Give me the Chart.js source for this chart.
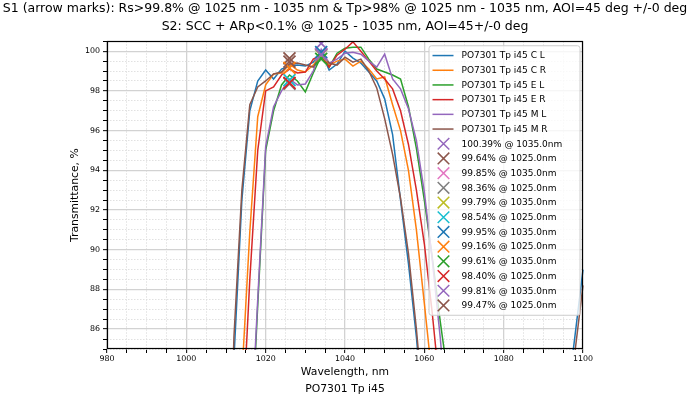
<!DOCTYPE html>
<html><head><meta charset="utf-8">
<script src="https://cdn.jsdelivr.net/npm/chart.js@4.4.1/dist/chart.umd.min.js"></script>
<style>html,body{margin:0;padding:0;background:#fff;}canvas{display:block;}</style>
</head><body>
<canvas id="c" width="690" height="395"></canvas>
<script>
// ---------- data ----------
const titleLines = [
  'S1 (arrow marks): Rs>99.8% @ 1025 nm - 1035 nm & Tp>98% @ 1025 nm - 1035 nm, AOI=45 deg +/-0 deg',
  'S2: SCC + ARp<0.1% @ 1025 - 1035 nm, AOI=45+/-0 deg'
];
const xTitle = 'Wavelength, nm';
const caption = 'PO7301 Tp i45';
const yTitle = 'Transmittance, %';
const xTickLabels = [980, 1000, 1020, 1040, 1060, 1080, 1100];
const yTickLabels = [86, 88, 90, 92, 94, 96, 98, 100];

const wavelengths = [1010,1012,1014,1016,1018,1020,1022,1024,1026,1028,1030,1032,1034,1036,1038,1040,1042,1044,1046,1048,1050,1052,1054,1056,1058,1060,1062,1064,1066,1068,1080,1096,1098,1100,1102];

const seriesNames = ['PO7301 Tp i45 C L','PO7301 Tp i45 C R','PO7301 Tp i45 E L','PO7301 Tp i45 E R','PO7301 Tp i45 M L','PO7301 Tp i45 M R'];
const tpCL = [70,84.5,92.5,97.0,98.5,99.05,98.6,99.1,99.25,99.3,99.25,99.45,99.97,99.05,99.35,100.0,99.65,99.4,98.95,98.5,97.6,95.8,92.5,89.3,85.6,81,75,68,60,52,30,82.4,85.7,89.0,92.3];
const tpCR = [65,76,83.6,90.9,96.7,98.3,98.85,98.9,99.35,99.05,98.95,99.3,99.85,99.3,99.5,99.6,99.25,99.5,99.1,98.6,98.7,97.3,96.0,94.0,91.0,87.3,83.5,78,70,62,30,40,45,50,55];
const tpEL = [55,63.5,71.5,79,87.2,95.0,97.0,98.3,98.8,98.5,97.95,98.9,99.75,99.2,99.9,100.15,100.2,100.2,99.6,99.1,98.95,98.8,98.6,97.2,95.1,92.5,89.6,86.4,83.5,78,30,40,45,50,55];
const tpER = [62,72,80.5,88.5,95.0,98.0,98.2,98.8,99.1,98.9,98.95,99.6,99.8,99.2,99.8,100.1,100.47,100.0,99.5,99.0,98.6,98.1,97.0,95.3,93.0,90.3,86.8,82.8,78,70,30,40,45,50,55];
const tpML = [55,64,72,79.5,87.5,95.2,97.2,98.0,98.6,98.3,98.35,99.0,100.1,99.4,99.6,99.9,99.95,99.85,99.5,99.2,99.85,98.6,98.1,97.1,95.5,92.9,89.5,85.6,81,74,30,40,45,50,55];
const tpMR = [72,85.6,93.0,97.3,98.2,98.5,98.85,98.95,99.35,99.4,99.3,99.2,99.85,99.4,99.3,99.7,99.45,99.6,99.0,98.15,96.6,94.8,92.6,89.8,86.0,81.5,76,70,62,55,30,81.5,84.9,88.2,91.5];
const seriesValues = [tpCL, tpCR, tpEL, tpER, tpML, tpMR];

const markLabels = ['100.39% @ 1035.0nm','99.64% @ 1025.0nm','99.85% @ 1035.0nm','98.36% @ 1025.0nm','99.79% @ 1035.0nm','98.54% @ 1025.0nm','99.95% @ 1035.0nm','99.16% @ 1025.0nm','99.61% @ 1035.0nm','98.40% @ 1025.0nm','99.81% @ 1035.0nm','99.47% @ 1025.0nm'];
const markWl  = [1034,1026,1034,1026,1034,1026,1034,1026,1034,1026,1034,1026];
const markVal = [100.39,99.64,99.85,98.36,99.79,98.54,99.95,99.16,99.61,98.40,99.81,99.47];

// ---------- styles ----------
const tab10 = ['#1f77b4','#ff7f0e','#2ca02c','#d62728','#9467bd','#8c564b','#e377c2','#7f7f7f','#bcbd22','#17becf'];
const FONT = '"DejaVu Sans", "Liberation Sans", sans-serif';

const datasets = [];
seriesValues.forEach((vals, i) => {
  datasets.push({
    label: seriesNames[i], kind: 'line',
    data: wavelengths.map((w, k) => ({x: w, y: vals[k]})),
    showLine: true, borderColor: tab10[i], backgroundColor: tab10[i],
    borderWidth: 1.5, pointRadius: 0, pointHoverRadius: 0, tension: 0, fill: false,
    order: 100 - i, clip: 1
  });
});
markLabels.forEach((lab, j) => {
  const col = tab10[(4 + j) % 10];
  datasets.push({
    label: lab, kind: 'mark',
    data: [{x: markWl[j], y: markVal[j]}],
    showLine: false, pointStyle: 'crossRot', pointRadius: 8.5, pointHoverRadius: 8.5,
    borderColor: col, backgroundColor: col, pointBorderWidth: 1.8, borderWidth: 1.8,
    order: 50 - j, clip: 0
  });
});

const frameLegend = {
  id: 'frameLegend',
  afterDatasetsDraw(chart) {
    const {ctx, chartArea: a} = chart;
    ctx.save();
    ctx.strokeStyle = '#000';
    ctx.lineWidth = 1.2;
    ctx.strokeRect(Math.round(a.left) + 0.5, Math.round(a.top) + 0.5,
                   Math.round(a.right - a.left) - 1, Math.round(a.bottom - a.top) - 1);
    // legend box
    const lx = a.right - 154, ly = a.top + 4.5, w = 151, h = 269.5, r = 2.5;
    ctx.beginPath();
    ctx.moveTo(lx + r, ly);
    ctx.lineTo(lx + w - r, ly); ctx.quadraticCurveTo(lx + w, ly, lx + w, ly + r);
    ctx.lineTo(lx + w, ly + h - r); ctx.quadraticCurveTo(lx + w, ly + h, lx + w - r, ly + h);
    ctx.lineTo(lx + r, ly + h); ctx.quadraticCurveTo(lx, ly + h, lx, ly + h - r);
    ctx.lineTo(lx, ly + r); ctx.quadraticCurveTo(lx, ly, lx + r, ly);
    ctx.closePath();
    ctx.fillStyle = 'rgba(255,255,255,0.8)';
    ctx.fill();
    ctx.strokeStyle = '#cccccc'; ctx.lineWidth = 1;
    ctx.stroke();
    ctx.font = '9px ' + FONT;
    ctx.textBaseline = 'middle';
    ctx.textAlign = 'left';
    chart.data.datasets.forEach((ds, i) => {
      const y = ly + 9.8 + i * 14.7;
      ctx.strokeStyle = ds.borderColor;
      ctx.lineWidth = 1.5;
      ctx.beginPath();
      if (ds.kind === 'line') {
        ctx.moveTo(lx + 3.5, y); ctx.lineTo(lx + 24.5, y);
      } else {
        const cx = lx + 14.5, s = 5.8;
        ctx.moveTo(cx - s, y - s); ctx.lineTo(cx + s, y + s);
        ctx.moveTo(cx - s, y + s); ctx.lineTo(cx + s, y - s);
      }
      ctx.stroke();
      ctx.fillStyle = '#000';
      ctx.fillText(ds.label, lx + 32.5, y + 0.5);
    });
    ctx.restore();
  }
};

new Chart(document.getElementById('c'), {
  type: 'scatter',
  data: { datasets },
  options: {
    responsive: false, animation: false, devicePixelRatio: 1,
    layout: { padding: { top: 0, right: 0, bottom: 0, left: 0 } },
    plugins: {
      legend: { display: false },
      tooltip: { enabled: false },
      title: { display: true, text: titleLines, color: '#000',
               font: { family: FONT, size: 12.5, weight: 'normal', lineHeight: 1.45 },
               padding: { top: 0, bottom: 5 } }
    },
    scales: {
      x: {
        type: 'linear', min: 980, max: 1100,
        afterFit: s => { s.height = 46; },
        ticks: { stepSize: 5, autoSkip: false, maxRotation: 0, color: '#000', padding: 1,
                 font: { family: FONT, size: 7.9 },
                 callback: v => xTickLabels.includes(v) ? String(v) : '' },
        grid: { drawTicks: true, tickLength: 4, tickColor: '#000', tickWidth: 1,
                color: c => (c.tick && c.tick.value % 20 === 0) ? '#d2d2d2' : '#dedede',
                lineWidth: c => (c.tick && c.tick.value % 20 === 0) ? 1.3 : 0.9 },
        border: { display: false, dash: c => (c.tick && c.tick.value % 20 !== 0) ? [1.5, 1.5] : [] },
        title: { display: true, text: [xTitle, caption], color: '#000',
                 font: { family: FONT, size: 10.8, lineHeight: 1.6 },
                 padding: { top: 0, bottom: -3 } }
      },
      y: {
        type: 'linear', min: 85, max: 100.5,
        afterFit: s => { s.width = 107; },
        ticks: { stepSize: 0.5, autoSkip: false, color: '#000', padding: 3,
                 font: { family: FONT, size: 7.9 },
                 callback: v => yTickLabels.includes(v) ? String(v) : '' },
        grid: { drawTicks: true, tickLength: 4, tickColor: '#000', tickWidth: 1,
                color: c => (c.tick && c.tick.value % 2 === 0) ? '#d2d2d2' : '#dedede',
                lineWidth: c => (c.tick && c.tick.value % 2 === 0) ? 1.3 : 0.9 },
        border: { display: false, dash: c => (c.tick && c.tick.value % 2 !== 0) ? [1.5, 1.5] : [] },
        title: { display: true, text: yTitle, color: '#000',
                 font: { family: FONT, size: 10.8, lineHeight: 1.2 },
                 padding: { top: 69, bottom: 0 } }
      },
      yRight: {
        type: 'linear', position: 'right', min: 85, max: 100.5, display: true,
        afterFit: s => { s.width = 107; },
        ticks: { display: false },
        grid: { display: false, drawTicks: false },
        border: { display: false },
        title: { display: false }
      }
    }
  },
  plugins: [frameLegend]
});
</script>
</body></html>
